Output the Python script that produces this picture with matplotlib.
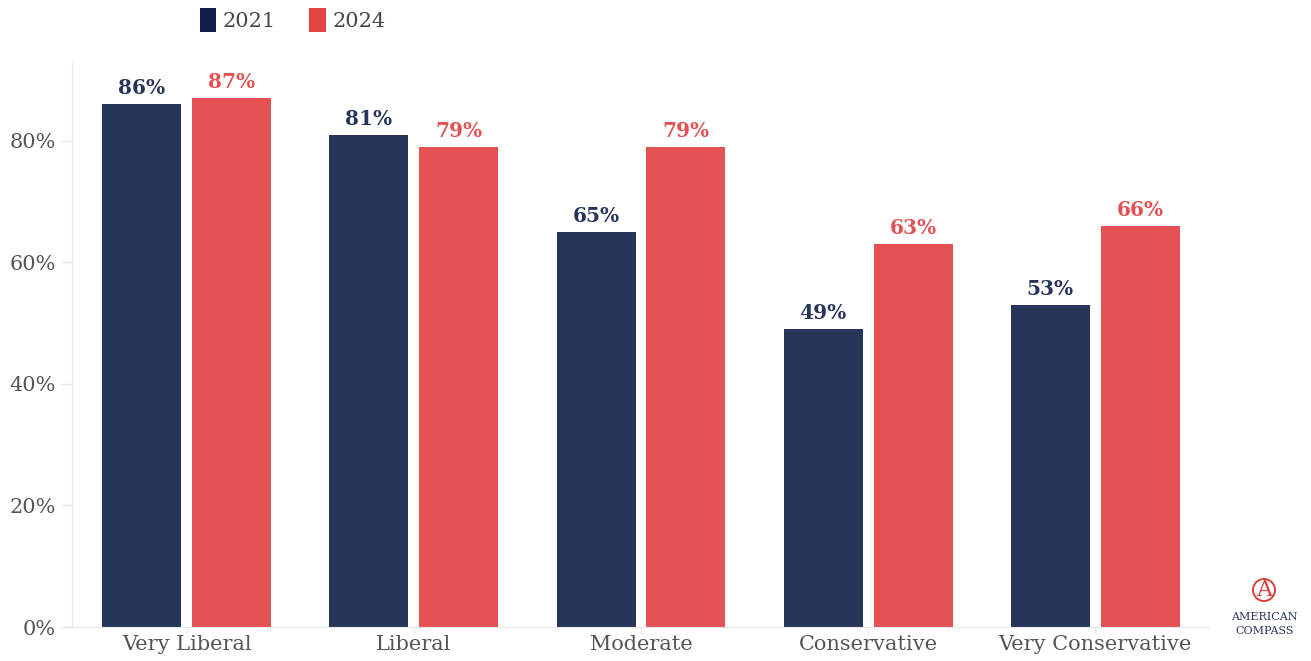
import numpy as np
import matplotlib.pyplot as plt
from matplotlib.patches import Patch, Circle

# Share of each ideology group, 2021 vs 2024 survey
categories = ['Very Liberal', 'Liberal', 'Moderate', 'Conservative', 'Very Conservative']
share_2021 = [86, 81, 65, 49, 53]
share_2024 = [87, 79, 79, 63, 66]
years = ['2021', '2024']

navy = '#27355a'
red = '#e35152'
plt.rcParams['font.family'] = ['DejaVu Serif']

fig = plt.figure(figsize=(13.11, 6.61), dpi=100)
ax = fig.add_axes([0.055, 0.0514, 0.867, 0.855])

x = np.arange(len(categories))
w = 0.348
off = 0.198
b1 = ax.bar(x - off, share_2021, w, color=navy)
b2 = ax.bar(x + off, share_2024, w, color=red)

for bars, vals, c in [(b1, share_2021, navy), (b2, share_2024, red)]:
    for b, v in zip(bars, vals):
        ax.text(b.get_x() + b.get_width() / 2, v + 1.0, f'{v}%', ha='center', va='bottom',
                fontsize=14.5, fontweight='bold', color=c)

ax.set_xlim(-0.505, 4.5)
ax.set_ylim(0, 93)
ax.set_yticks([0, 20, 40, 60, 80])
ax.set_yticklabels([f'{t}%' for t in [0, 20, 40, 60, 80]])
ax.set_xticks(x)
ax.set_xticklabels(categories)
ax.tick_params(axis='both', labelsize=15, labelcolor='#555555', color='#e6e6e6', width=1)
ax.tick_params(axis='y', length=8)
ax.tick_params(axis='x', length=5, pad=1)
for s in ['top', 'right']:
    ax.spines[s].set_visible(False)
for s in ['left', 'bottom']:
    ax.spines[s].set_color('#e8e8e8')

# legend along the top
handles = [Patch(facecolor='#0e1f4a', label=years[0]), Patch(facecolor='#e64343', label=years[1])]
fig.legend(handles=handles, loc='upper left', bbox_to_anchor=(0.138, 1.016), ncol=2, frameon=False,
           fontsize=15, handlelength=0.8, handleheight=1.4, handletextpad=0.3, columnspacing=1.6,
           labelcolor='#444444')

# logo, bottom right
fig.text(0.9645, 0.108, 'A', ha='center', va='center', fontsize=16, color='#d9403a')
fig.patches.append(Circle((1264, 71), 11, transform=None, fill=False, edgecolor='#d9403a', lw=1.4))
fig.text(0.9645, 0.067, 'AMERICAN', ha='center', va='center', fontsize=8, color=navy)
fig.text(0.9645, 0.046, 'COMPASS', ha='center', va='center', fontsize=8, color=navy)

fig.savefig('out.png', dpi=100)
